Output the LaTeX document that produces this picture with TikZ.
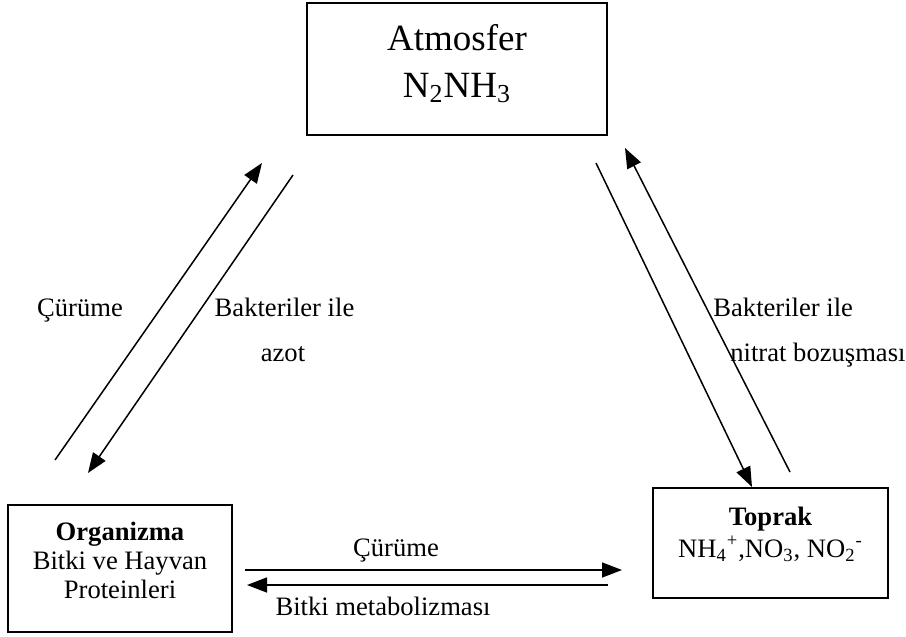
\documentclass[tikz,border=0pt]{standalone}
\usepackage{fontspec}
\setmainfont{Liberation Serif}
\usetikzlibrary{arrows.meta}

\begin{document}
\begin{tikzpicture}
  [x=0.5pt, y=-0.5pt,
   kutu/.style={draw, line width=0.8pt, align=center, inner sep=0pt},
   yazi/.style={font=\fontsize{13.3}{16}\selectfont, inner sep=0pt},
   akis/.style={line width=0.75pt, -{Triangle[length=10pt, width=7.5pt]}}]
  \useasboundingbox (0,0) rectangle (906,637);

  % kutular
  \node[kutu, minimum width=150pt, minimum height=66pt, font=\fontsize{18.5}{23.5}\selectfont] (atmosfer) at (457,69) {Atmosfer\\N\textsubscript{2}NH\textsubscript{3}\rule[-8pt]{0pt}{0pt}};
  \node[kutu, minimum width=112pt, minimum height=63.5pt, font=\fontsize{13.3}{14.5}\selectfont] (organizma) at (120,568.5) {\textbf{Organizma}\\Bitki ve Hayvan\\Proteinleri\rule[-8pt]{0pt}{0pt}};
  \node[kutu, minimum width=117.5pt, minimum height=55pt, font=\fontsize{13.3}{16}\selectfont] (toprak) at (770.5,543) {\textbf{Toprak}\\NH\textsubscript{4}\textsuperscript{+},NO\textsubscript{3}, NO\textsubscript{2}\textsuperscript{-}\rule[-11pt]{0pt}{0pt}};

  % ok uclari
  \coordinate (curA) at (55,460);
  \coordinate (curB) at (262,163);
  \coordinate (bakA) at (293,175);
  \coordinate (bakB) at (88,473);
  \coordinate (nitA) at (596,163);
  \coordinate (nitB) at (752,487);
  \coordinate (topA) at (790,472);
  \coordinate (topB) at (625,148);
  \coordinate (altA) at (245,570);
  \coordinate (altB) at (622,570);
  \coordinate (metA) at (608,585);
  \coordinate (metB) at (247,585);

  \draw[akis] (curA) -- (curB);
  \draw[akis] (bakA) -- (bakB);
  \draw[akis] (nitA) -- (nitB);
  \draw[akis] (topA) -- (topB);
  \draw[akis] (altA) -- (altB);
  \draw[akis] (metA) -- (metB);

  % etiketler
  \node[yazi, anchor=base] (curumeSol) at (80,316) {Çürüme};
  \node[yazi, anchor=base] (bakSol) at (284.5,316) {Bakteriler ile};
  \node[yazi, anchor=base] (azot) at (283,361) {azot};
  \node[yazi, anchor=base west] (bakSag) at (713,316) {Bakteriler ile};
  \node[yazi, anchor=base west] (nitrat) at (730,361) {nitrat bozuşması};
  \node[yazi, anchor=base] (curumeAlt) at (396,556) {Çürüme};
  \node[yazi, anchor=base] (metabolizma) at (383,615) {Bitki metabolizması};
\end{tikzpicture}
\end{document}
